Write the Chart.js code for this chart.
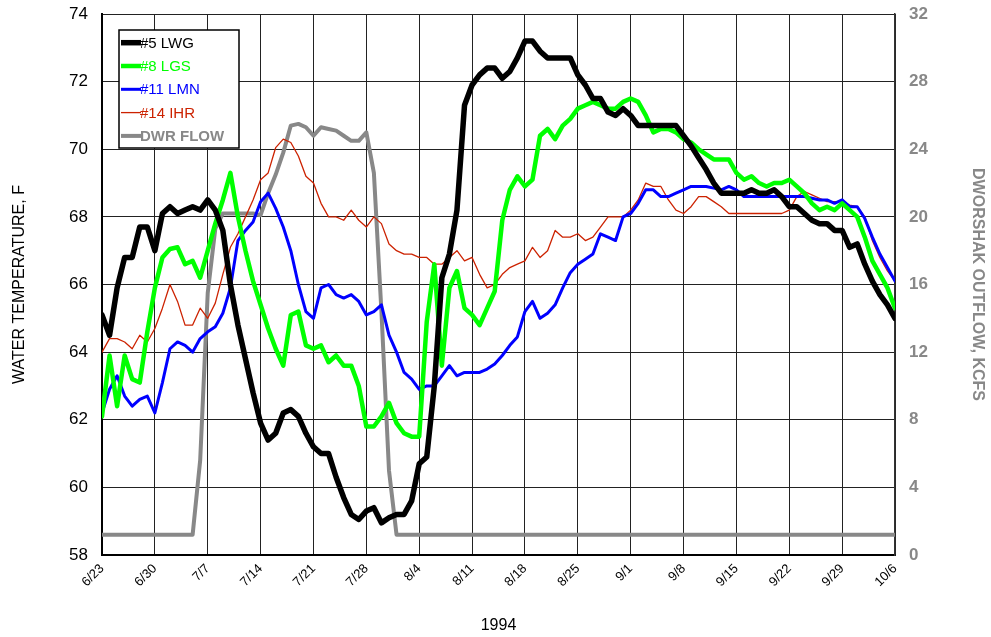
<!DOCTYPE html>
<html>
<head>
<meta charset="utf-8">
<script src="https://cdn.jsdelivr.net/npm/chart.js@4.4.1/dist/chart.umd.min.js"></script>
<style>
  html, body { margin: 0; padding: 0; background: #fff; }
  #wrap { width: 991px; height: 637px; }
</style>
</head>
<body>
<div id="wrap"><canvas id="chart" width="991" height="637"></canvas></div>
<script>
// weekly tick labels, 6/23 .. 10/6 (1994)
const weekLabels = ["6/23", "6/30", "7/7", "7/14", "7/21", "7/28", "8/4", "8/11",
  "8/18", "8/25", "9/1", "9/8", "9/15", "9/22", "9/29", "10/6"]

// daily values, one per day starting 6/23
const lwg = [65.1, 64.5, 65.9, 66.8, 66.8, 67.7, 67.7, 67.0, 68.1, 68.3,
  68.1, 68.2, 68.3, 68.2, 68.5, 68.2, 67.6, 66.0, 64.8, 63.8,
  62.8, 61.9, 61.4, 61.6, 62.2, 62.3, 62.1, 61.6, 61.2, 61.0,
  61.0, 60.3, 59.7, 59.2, 59.05, 59.3, 59.4, 58.95, 59.1, 59.2,
  59.2, 59.6, 60.7, 60.9, 63.0, 66.2, 66.9, 68.2, 71.3, 71.9,
  72.2, 72.4, 72.4, 72.1, 72.3, 72.7, 73.2, 73.2, 72.9, 72.7,
  72.7, 72.7, 72.7, 72.2, 71.9, 71.5, 71.5, 71.1, 71.0, 71.2,
  71.0, 70.7, 70.7, 70.7, 70.7, 70.7, 70.7, 70.4, 70.1, 69.75,
  69.4, 69.0, 68.7, 68.7, 68.7, 68.7, 68.8, 68.7, 68.7, 68.8,
  68.6, 68.3, 68.3, 68.1, 67.9, 67.8, 67.8, 67.6, 67.6, 67.1,
  67.2, 66.6, 66.1, 65.7, 65.4, 65.0]

const lgs = [62.1, 63.9, 62.4, 63.9, 63.2, 63.1, 64.6, 65.9, 66.8, 67.05,
  67.1, 66.6, 66.7, 66.2, 67.0, 67.8, 68.5, 69.3, 68.0, 67.0,
  66.1, 65.4, 64.7, 64.1, 63.6, 65.1, 65.2, 64.2, 64.1, 64.2,
  63.7, 63.9, 63.6, 63.6, 63.0, 61.8, 61.8, 62.1, 62.5, 61.9,
  61.6, 61.5, 61.5, 64.9, 66.6, 63.6, 65.9, 66.4, 65.3, 65.1,
  64.8, 65.3, 65.8, 67.9, 68.8, 69.2, 68.9, 69.1, 70.4, 70.6,
  70.3, 70.7, 70.9, 71.2, 71.3, 71.4, 71.3, 71.2, 71.2, 71.4,
  71.5, 71.4, 71.0, 70.5, 70.6, 70.6, 70.5, 70.3, 70.2, 70.0,
  69.85, 69.7, 69.7, 69.7, 69.3, 69.1, 69.2, 69.0, 68.9, 69.0,
  69.0, 69.1, 68.9, 68.7, 68.4, 68.2, 68.3, 68.2, 68.4, 68.2,
  68.0, 67.4, 66.7, 66.3, 65.9, 65.3]

const lmn = [62.2, 62.9, 63.3, 62.7, 62.4, 62.6, 62.7, 62.2, 63.1, 64.1,
  64.3, 64.2, 64.0, 64.4, 64.6, 64.75, 65.15, 65.9, 67.3, 67.6,
  67.85, 68.45, 68.7, 68.25, 67.7, 67.0, 66.0, 65.2, 65.0, 65.9,
  66.0, 65.7, 65.6, 65.7, 65.5, 65.1, 65.2, 65.4, 64.5, 64.0,
  63.4, 63.2, 62.9, 63.0, 63.0, 63.3, 63.6, 63.3, 63.4, 63.4,
  63.4, 63.5, 63.65, 63.9, 64.2, 64.45, 65.2, 65.5, 65.0, 65.15,
  65.4, 65.9, 66.35, 66.6, 66.75, 66.9, 67.5, 67.4, 67.3, 68.0,
  68.1, 68.4, 68.8, 68.8, 68.6, 68.6, 68.7, 68.8, 68.9, 68.9,
  68.9, 68.85, 68.8, 68.9, 68.8, 68.6, 68.6, 68.6, 68.6, 68.6,
  68.6, 68.6, 68.6, 68.6, 68.55, 68.5, 68.5, 68.4, 68.5, 68.3,
  68.3, 67.95, 67.4, 66.9, 66.5, 66.1]

const ihr = [64.0, 64.4, 64.4, 64.3, 64.1, 64.5, 64.3, 64.7, 65.3, 66.0,
  65.5, 64.8, 64.8, 65.3, 65.0, 65.45, 66.3, 67.1, 67.5, 68.0,
  68.5, 69.1, 69.3, 70.05, 70.3, 70.2, 69.8, 69.2, 69.0, 68.4,
  68.0, 68.0, 67.9, 68.2, 67.9, 67.7, 68.0, 67.8, 67.2, 67.0,
  66.9, 66.9, 66.8, 66.8, 66.6, 66.6, 66.8, 67.0, 66.7, 66.8,
  66.3, 65.9, 66.0, 66.3, 66.5, 66.6, 66.7, 67.1, 66.8, 67.0,
  67.6, 67.4, 67.4, 67.5, 67.3, 67.4, 67.7, 68.0, 68.0, 68.0,
  68.2, 68.5, 69.0, 68.9, 68.9, 68.5, 68.2, 68.1, 68.3, 68.6,
  68.6, 68.45, 68.3, 68.1, 68.1, 68.1, 68.1, 68.1, 68.1, 68.1,
  68.1, 68.2, 68.6, 68.75, 68.65, 68.55, 68.45, 68.45, 68.45, 68.35,
  68.3, 68.0, 67.3, 66.8, 66.4, 66.1]

// Dworshak outflow, kcfs (right axis)
const dwrFlow = [1.2, 1.2, 1.2, 1.2, 1.2, 1.2, 1.2, 1.2, 1.2, 1.2,
  1.2, 1.2, 1.2, 5.6, 15.5, 19.3, 20.2, 20.2, 20.2, 20.2,
  20.2, 20.1, 21.4, 22.5, 23.8, 25.4, 25.5, 25.3, 24.8, 25.3,
  25.2, 25.1, 24.8, 24.5, 24.5, 25.0, 22.6, 14.4, 5.0, 1.2,
  1.2, 1.2, 1.2, 1.2, 1.2, 1.2, 1.2, 1.2, 1.2, 1.2,
  1.2, 1.2, 1.2, 1.2, 1.2, 1.2, 1.2, 1.2, 1.2, 1.2,
  1.2, 1.2, 1.2, 1.2, 1.2, 1.2, 1.2, 1.2, 1.2, 1.2,
  1.2, 1.2, 1.2, 1.2, 1.2, 1.2, 1.2, 1.2, 1.2, 1.2,
  1.2, 1.2, 1.2, 1.2, 1.2, 1.2, 1.2, 1.2, 1.2, 1.2,
  1.2, 1.2, 1.2, 1.2, 1.2, 1.2, 1.2, 1.2, 1.2, 1.2,
  1.2, 1.2, 1.2, 1.2, 1.2, 1.2]

const FONT = "'Liberation Sans', Arial, sans-serif"

// day index -> point
const toPoints = (arr) => arr.map((v, i) => ({ x: i, y: v }))

// fixed axis sizes so the plot box lands where the original one is
const fitWidth = (w) => (s) => {
  s.width = w
  s.paddingTop = 0
  s.paddingBottom = 0
}

// Legend drawn as a boxed panel inside the plot
const boxLegend = {
  id: "boxLegend",
  afterDatasetsDraw(chart) {
    const { ctx, chartArea } = chart
    const x = chartArea.left + 17
    const y = chartArea.top + 16
    ctx.save()
    ctx.fillStyle = "#fff"
    ctx.fillRect(x, y, 120, 118)
    ctx.strokeStyle = "#000"
    ctx.lineWidth = 1.5
    ctx.strokeRect(x, y, 120, 118)
    chart.data.datasets.forEach((ds, i) => {
      const ly = y + 12.7 + i * 23.3
      ctx.beginPath()
      ctx.strokeStyle = ds.borderColor
      ctx.lineWidth = ds.borderWidth
      ctx.moveTo(x + 2, ly)
      ctx.lineTo(x + 22, ly)
      ctx.stroke()
      ctx.font = (ds.yAxisID === "y2" ? "bold " : "") + "15px " + FONT
      ctx.fillStyle = ds.borderColor
      ctx.textBaseline = "middle"
      ctx.fillText(ds.label, x + 21, ly + 1)
    })
    ctx.restore()
  },
}

const ctx = document.getElementById("chart").getContext("2d")
new Chart(ctx, {
  type: "line",
  data: {
    datasets: [
      { label: "#5 LWG", data: toPoints(lwg), borderColor: "#000000", borderWidth: 5.5, yAxisID: "y" },
      { label: "#8 LGS", data: toPoints(lgs), borderColor: "#00ff00", borderWidth: 4.5, yAxisID: "y" },
      { label: "#11 LMN", data: toPoints(lmn), borderColor: "#0000ff", borderWidth: 3, yAxisID: "y" },
      { label: "#14 IHR", data: toPoints(ihr), borderColor: "#cc2200", borderWidth: 1.3, yAxisID: "y" },
      { label: "DWR FLOW", data: toPoints(dwrFlow), borderColor: "#888888", borderWidth: 4, yAxisID: "y2" },
    ],
  },
  options: {
    responsive: false,
    animation: false,
    devicePixelRatio: 1,
    layout: { padding: { top: 14, left: 0, right: 0, bottom: 0 } },
    elements: {
      point: { radius: 0 },
      line: { tension: 0, borderJoinStyle: "round", borderCapStyle: "round" },
    },
    plugins: {
      legend: { display: false },
      tooltip: { enabled: false },
    },
    scales: {
      x: {
        type: "linear",
        min: 0,
        max: 105,
        afterFit: (s) => { s.height = 82 },
        ticks: {
          stepSize: 7,
          autoSkip: false,
          maxRotation: 45,
          minRotation: 45,
          padding: 6,
          color: "#000",
          font: { family: FONT, size: 13 },
          callback: (v) => weekLabels[v / 7],
        },
        grid: { color: "#222", lineWidth: 1, drawTicks: false },
        border: { display: true, color: "#000", width: 2 },
        title: {
          display: true,
          text: "1994",
          color: "#000",
          font: { family: FONT, size: 16 },
          padding: { top: 0, bottom: 2 },
        },
      },
      y: {
        position: "left",
        min: 58,
        max: 74,
        afterFit: fitWidth(102),
        ticks: {
          stepSize: 2,
          padding: 14,
          color: "#000",
          font: { family: FONT, size: 17 },
        },
        grid: { color: "#222", lineWidth: 1, drawTicks: false },
        border: { display: true, color: "#000", width: 2 },
        title: {
          display: true,
          text: "WATER TEMPERATURE, F",
          color: "#000",
          font: { family: FONT, size: 16 },
          padding: { top: 10, bottom: 0 },
        },
      },
      y2: {
        position: "right",
        min: 0,
        max: 32,
        afterFit: fitWidth(96),
        ticks: {
          stepSize: 4,
          padding: 14,
          color: "#888888",
          font: { family: FONT, size: 17, weight: "bold" },
        },
        grid: { drawOnChartArea: false, drawTicks: false },
        border: { display: true, color: "#333", width: 1.5 },
        title: {
          display: true,
          text: "DWORSHAK OUTFLOW, KCFS",
          color: "#888888",
          font: { family: FONT, size: 16, weight: "bold" },
          padding: { top: 4, bottom: 0 },
        },
      },
    },
  },
  plugins: [boxLegend],
})
</script>
</body>
</html>
